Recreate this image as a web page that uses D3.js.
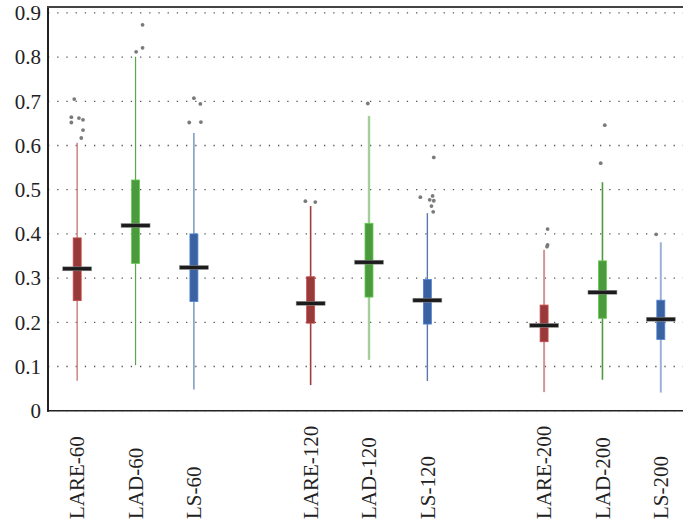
<!DOCTYPE html>
<html>
<head>
<meta charset="utf-8">
<script src="https://cdn.jsdelivr.net/npm/d3@7"></script>
<style>
  html, body { margin: 0; padding: 0; background: #fff; }
  svg { display: block; }
</style>
</head>
<body>
<svg id="chart" width="683" height="529"></svg>
<script>
// Methods and sample sizes, in drawing order
const categories = ["LARE-60", "LAD-60", "LS-60", "LARE-120", "LAD-120", "LS-120", "LARE-200", "LAD-200", "LS-200"];
// Slot of each box along the x axis (empty slot between groups)
const slots = [1, 2, 3, 5, 6, 7, 9, 10, 11];
const method = ["LARE", "LAD", "LS", "LARE", "LAD", "LS", "LARE", "LAD", "LS"];

// Five-number summaries
const whiskerLow  = [0.068, 0.103, 0.048, 0.058, 0.115, 0.067, 0.042, 0.070, 0.041];
const q1          = [0.249, 0.333, 0.247, 0.198, 0.257, 0.196, 0.156, 0.209, 0.161];
const median      = [0.321, 0.419, 0.324, 0.243, 0.336, 0.250, 0.193, 0.268, 0.207];
const q3          = [0.391, 0.522, 0.400, 0.303, 0.424, 0.297, 0.239, 0.339, 0.250];
const whiskerHigh = [0.606, 0.801, 0.628, 0.463, 0.667, 0.447, 0.364, 0.517, 0.381];

// Outliers per box: [value, horizontal jitter in slot units]
const outliers = [
  [[0.664, -0.10], [0.652, -0.10], [0.705, -0.05], [0.662, 0.03], [0.658, 0.10], [0.635, 0.10], [0.617, 0.07]],
  [[0.812, 0.01], [0.821, 0.12], [0.873, 0.12]],
  [[0.652, -0.08], [0.707, 0.00], [0.694, 0.11], [0.653, 0.12]],
  [[0.474, -0.09], [0.472, 0.08]],
  [[0.695, -0.02]],
  [[0.573, 0.11], [0.483, -0.12], [0.486, 0.09], [0.477, 0.04], [0.475, 0.11], [0.463, 0.07], [0.450, 0.10]],
  [[0.411, 0.06], [0.375, 0.06], [0.371, 0.05]],
  [[0.646, 0.04], [0.560, -0.03]],
  [[0.399, -0.08]]
];

const yTicks = [0, 0.1, 0.2, 0.3, 0.4, 0.5, 0.6, 0.7, 0.8, 0.9];

// Styling
const FONT = "'Liberation Serif', 'Times New Roman', 'DejaVu Serif', serif";
const boxFill = { LARE: "#983a3a", LAD: "#4b9a3d", LS: "#3b62a0" };
const whiskerStyle = [
  { color: "#cf8585", width: 1.5 },
  { color: "#5aa64c", width: 1.2 },
  { color: "#5a7cb2", width: 1.2 },
  { color: "#a33c3c", width: 1.6 },
  { color: "#a3cf98", width: 2.4 },
  { color: "#5a78a8", width: 1.4 },
  { color: "#d39595", width: 2.0 },
  { color: "#4d9c3f", width: 1.6 },
  { color: "#9db2d4", width: 2.0 }
];

const svg = d3.select("#chart");
const W = 683, H = 529;
const plot = { left: 48, right: 690, top: 7, bottom: 410.7 };

const y = d3.scaleLinear().domain([0, 0.9]).range([plot.bottom, plot.bottom - 0.9 * 442]);
const x = d3.scaleLinear().domain([0.5, 11.5]).range([plot.left, plot.right]);

// Dotted horizontal grid
const grid = svg.append("g");
grid.selectAll("line").data(yTicks).join("line")
  .attr("x1", plot.left).attr("x2", W)
  .attr("y1", d => y(d)).attr("y2", d => y(d))
  .attr("stroke", "#555").attr("stroke-width", 1.3)
  .attr("stroke-dasharray", "1.3,7.9");

// Y axis
const yAxis = d3.axisLeft(y).tickValues(yTicks).tickSize(0).tickPadding(7)
  .tickFormat(d => d === 0 ? "0" : d3.format(".1f")(d));
const ya = svg.append("g").attr("transform", `translate(${plot.left},0)`).call(yAxis);
ya.attr("font-family", null).attr("font-size", null);
ya.select(".domain").remove();
ya.selectAll("text")
  .style("font-family", FONT)
  .style("font-size", "21px")
  .attr("fill", "#222");

// Spines
svg.append("line").attr("x1", plot.left).attr("x2", plot.left)
  .attr("y1", plot.top).attr("y2", plot.bottom + 1)
  .attr("stroke", "#222").attr("stroke-width", 2);
svg.append("line").attr("x1", plot.left - 1).attr("x2", W)
  .attr("y1", plot.top).attr("y2", plot.top)
  .attr("stroke", "#444").attr("stroke-width", 2);
svg.append("line").attr("x1", plot.left - 1).attr("x2", W)
  .attr("y1", plot.bottom).attr("y2", plot.bottom)
  .attr("stroke", "#222").attr("stroke-width", 1.6);

const boxW = 8, medW = 29;
const boxes = svg.append("g").selectAll("g").data(categories).join("g");

// Whiskers
boxes.append("line")
  .attr("x1", (d, i) => x(slots[i])).attr("x2", (d, i) => x(slots[i]))
  .attr("y1", (d, i) => y(whiskerLow[i])).attr("y2", (d, i) => y(whiskerHigh[i]))
  .attr("stroke", (d, i) => whiskerStyle[i].color)
  .attr("stroke-width", (d, i) => whiskerStyle[i].width);

// Boxes
boxes.append("rect")
  .attr("x", (d, i) => x(slots[i]) - boxW / 2)
  .attr("width", boxW)
  .attr("y", (d, i) => y(q3[i]))
  .attr("height", (d, i) => y(q1[i]) - y(q3[i]))
  .attr("fill", (d, i) => boxFill[method[i]])
  .attr("stroke", (d, i) => d3.color(boxFill[method[i]]).brighter(0.8))
  .attr("stroke-width", 0.8);

// Medians
boxes.append("rect")
  .attr("x", (d, i) => x(slots[i]) - medW / 2)
  .attr("width", medW)
  .attr("y", (d, i) => y(median[i]) - 2)
  .attr("height", 4)
  .attr("fill", "#1c1c1c")
  .attr("stroke", "#999").attr("stroke-width", 0.5);

// Outliers
boxes.each(function (d, i) {
  d3.select(this).selectAll("circle").data(outliers[i]).join("circle")
    .attr("cx", o => x(slots[i] + o[1]))
    .attr("cy", o => y(o[0]))
    .attr("r", 1.9)
    .attr("fill", "#7a7a7a");
});

// Rotated category labels, centred under each box
svg.append("g").selectAll("text").data(categories).join("text")
  .attr("transform", (d, i) => `translate(${x(slots[i])},519) rotate(-90)`)
  .attr("text-anchor", "start")
  .attr("dy", "0.34em")
  .style("font-family", FONT)
  .style("font-size", "21px")
  .attr("fill", "#222")
  .text(d => d);
</script>
</body>
</html>
